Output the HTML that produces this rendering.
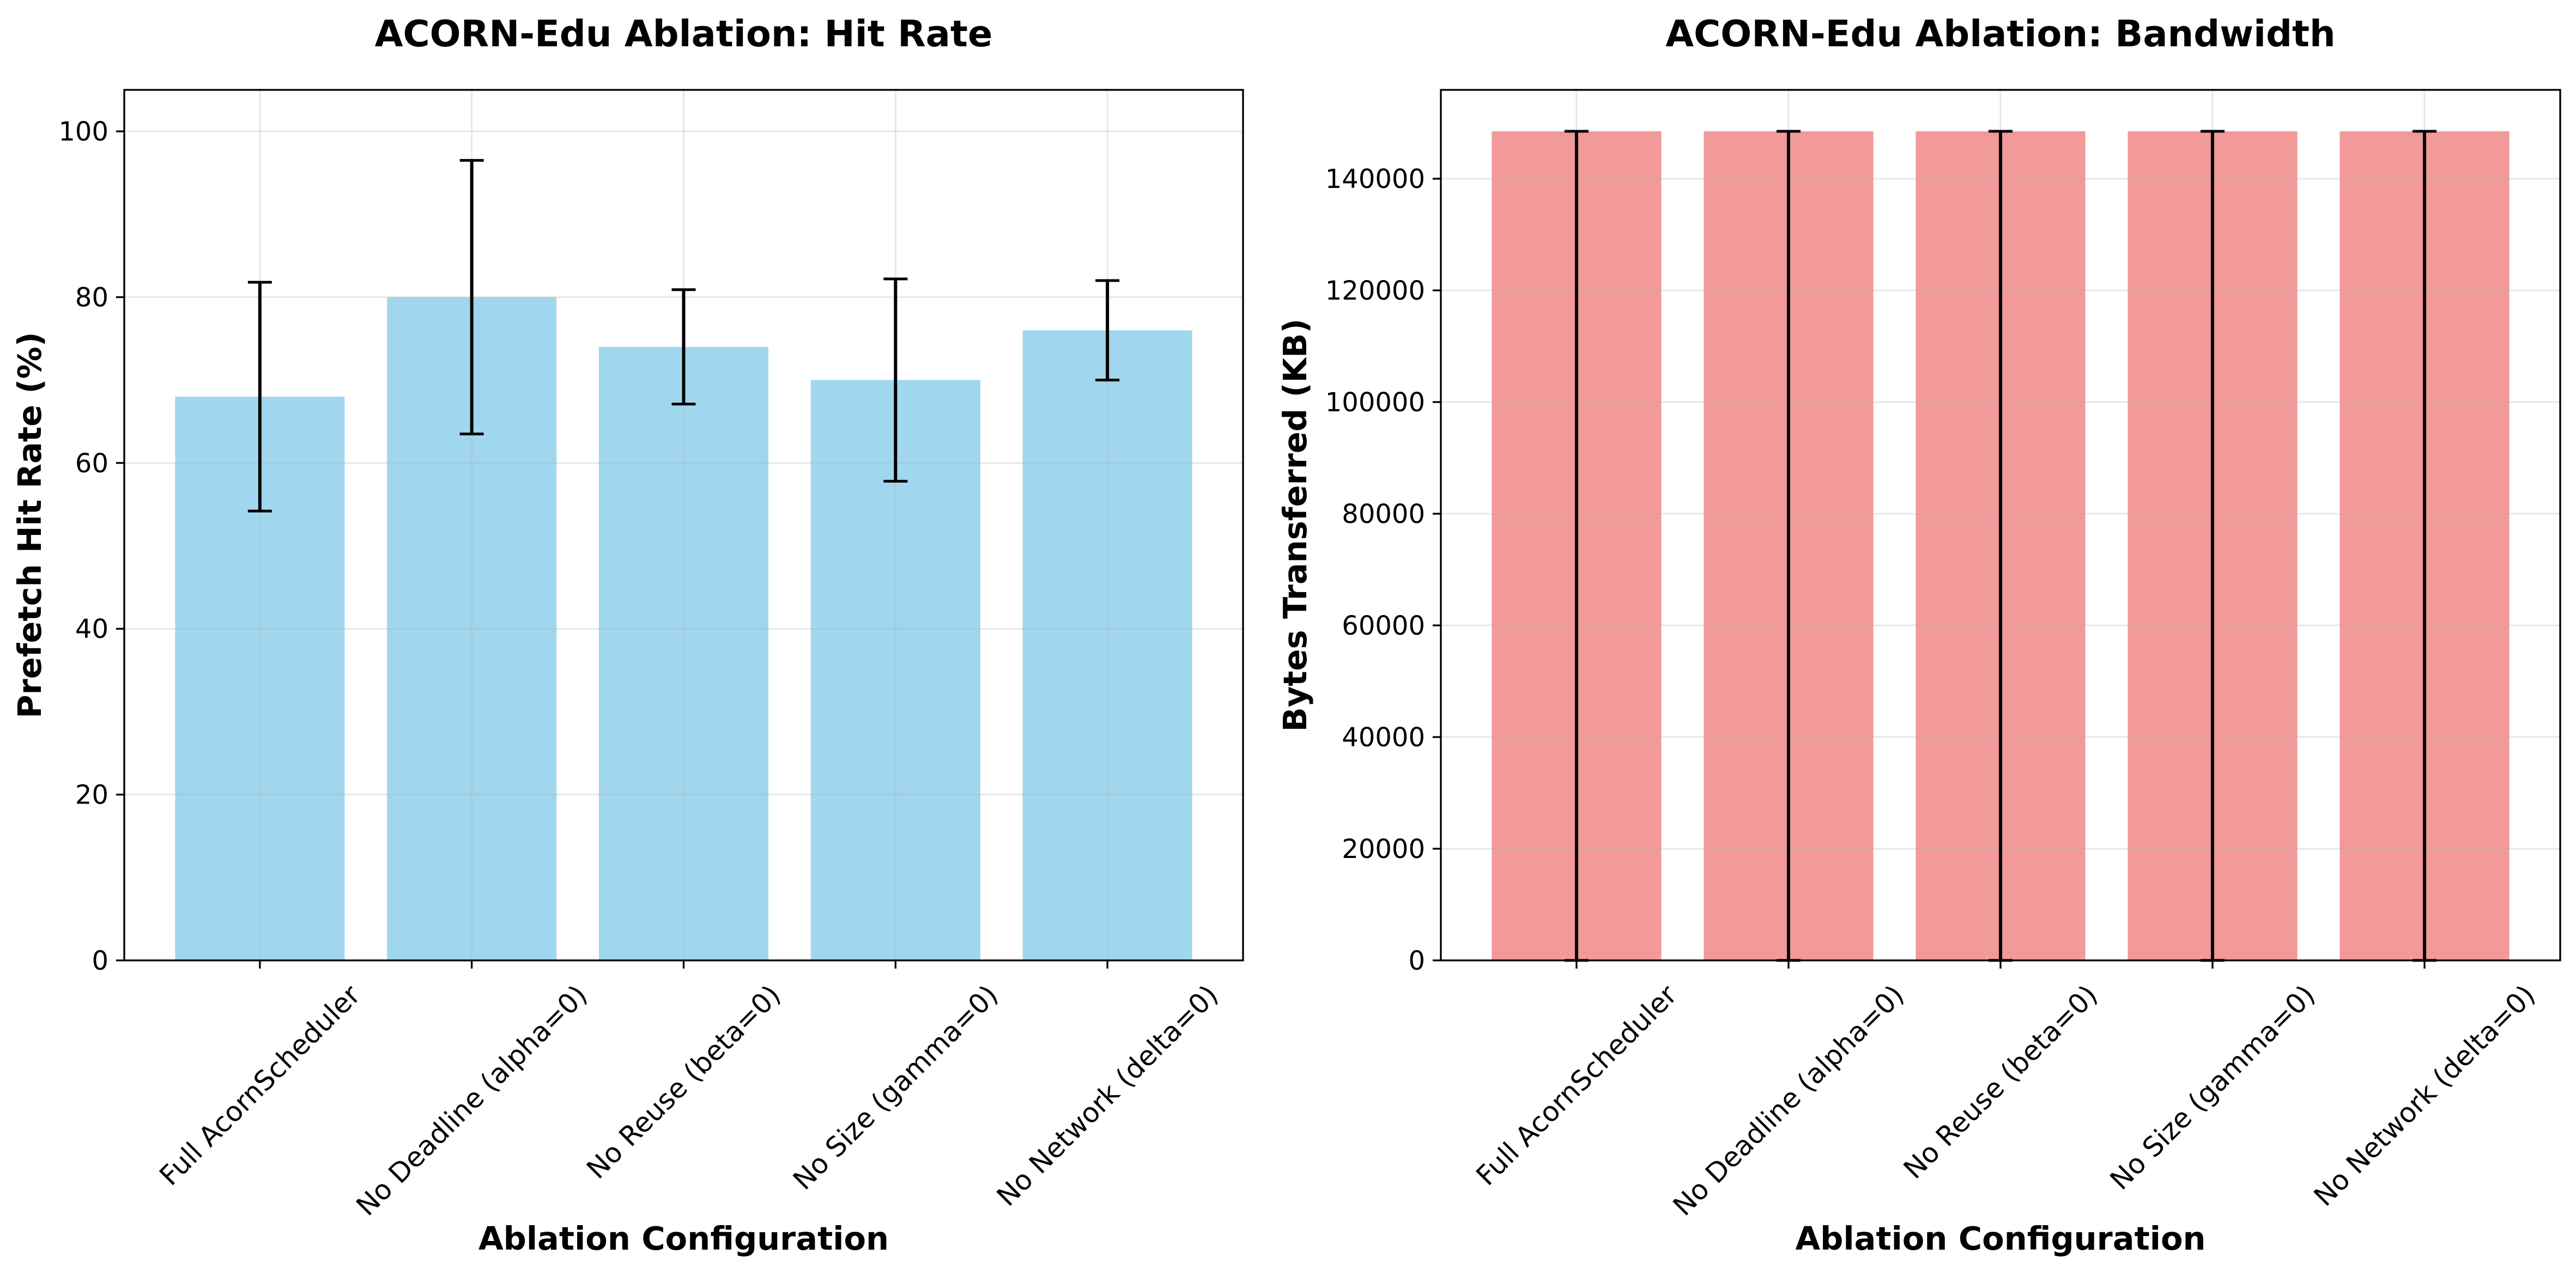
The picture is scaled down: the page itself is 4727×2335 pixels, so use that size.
<!DOCTYPE html>
<html><head><meta charset="utf-8"><title>ACORN-Edu Ablation</title>
<style>html,body{margin:0;padding:0;background:#fff}svg{display:block}text{font-family:"DejaVu Sans","Liberation Sans",sans-serif;fill:#000}</style>
</head><body>
<svg id="fig" width="4727" height="2335" viewBox="0 0 4727 2335" xmlns="http://www.w3.org/2000/svg">
<rect width="4727" height="2335" fill="#fff"/>
</svg>
<script>
const categories = ["Full AcornScheduler","No Deadline (alpha=0)","No Reuse (beta=0)","No Size (gamma=0)","No Network (delta=0)"];
const hitValues = [68, 80, 74, 70, 76];
const hitErrLow = [54.2, 63.5, 67.1, 57.8, 70.0];
const hitErrHigh = [81.8, 96.5, 80.9, 82.2, 82.0];
const hitTicks = [0, 20, 40, 60, 80, 100];
const bwValues = [148490, 148490, 148490, 148490, 148490];
const bwErrLow = [0, 0, 0, 0, 0];
const bwErrHigh = [148490, 148490, 148490, 148490, 148490];
const bwTicks = [0, 20000, 40000, 60000, 80000, 100000, 120000, 140000];

const NS = "http://www.w3.org/2000/svg";
const svg = document.getElementById('fig');
function mk(tag, attrs, parent){
  const e = document.createElementNS(NS, tag);
  for (const k in attrs) e.setAttribute(k, attrs[k]);
  (parent||svg).appendChild(e);
  return e;
}

function drawPanel(opt){
  const g = mk('g', {});
  
  
  const L = opt.left, R = opt.right, T = 165, B = 1763;
  const xmin = -0.64, xmax = categories.length - 1 + 0.64;
  const xs = v => L + (v - xmin) / (xmax - xmin) * (R - L);
  const ys = v => B - v / opt.ymax * (B - T);
  const unit = xs(1) - xs(0);

  opt.values.forEach((v, i) => {
    const r = mk('rect', {x: xs(i) - 0.4*unit, y: ys(v), width: 0.8*unit, height: ys(0) - ys(v), fill: opt.color}, g);
    
    
  });
  opt.ticks.forEach(t => {
    const l = mk('line', {x1: L, x2: R, y1: ys(t), y2: ys(t), stroke: '#b0b0b0', 'stroke-opacity': 0.3, 'stroke-width': 3}, g);
    
    
  });
  categories.forEach((c, i) => {
    const l = mk('line', {x1: xs(i), x2: xs(i), y1: T, y2: B, stroke: '#b0b0b0', 'stroke-opacity': 0.3, 'stroke-width': 3}, g);
    
    
  });
  opt.values.forEach((v, i) => {
    const eg = mk('g', {stroke: '#000'}, g);
    
    
    const x = xs(i), y1 = ys(opt.lo[i]), y2 = ys(opt.hi[i]);
    mk('line', {x1: x, x2: x, y1: y1, y2: y2, 'stroke-width': 6}, eg);
    mk('line', {x1: x-22, x2: x+22, y1: y1, y2: y1, 'stroke-width': 5}, eg);
    mk('line', {x1: x-22, x2: x+22, y1: y2, y2: y2, 'stroke-width': 5}, eg);
  });
  const sp = mk('rect', {x: L, y: T, width: R-L, height: B-T, fill: 'none', stroke: '#000', 'stroke-width': 3.3}, g);
  
  
  opt.ticks.forEach(t => {
    mk('line', {x1: L-15, x2: L, y1: ys(t), y2: ys(t), stroke: '#000', 'stroke-width': 3.3}, g);
    const tx = mk('text', {x: L-29, y: ys(t) + 17, 'text-anchor': 'end', 'font-size': 48}, g);
    tx.textContent = String(t);
    
    
  });
  categories.forEach((c, i) => {
    mk('line', {x1: xs(i), x2: xs(i), y1: B, y2: B+15, stroke: '#000', 'stroke-width': 3.3}, g);
    const tg = mk('g', {}, g);
    const tx = mk('text', {x: 0, y: 0, 'text-anchor': 'middle', 'dominant-baseline': 'central', 'font-size': 50}, tg);
    tx.textContent = c;
    
    
    const len = tx.getComputedTextLength();
    const h = 58;
    const cy = 1797 + (len + h) * 0.7071 / 2;
    tg.setAttribute('transform', 'translate(' + xs(i) + ',' + cy + ') rotate(-45)');
  });
  const ti = mk('text', {x: (L+R)/2, y: 85, 'text-anchor': 'middle', 'font-size': 67, 'font-weight': 'bold'}, g);
  ti.textContent = opt.title;
  
  
  const xl = mk('text', {x: (L+R)/2, y: 2294, 'text-anchor': 'middle', 'font-size': 59, 'font-weight': 'bold'}, g);
  xl.textContent = 'Ablation Configuration';
  
  
  const yl = mk('text', {x: 0, y: 0, 'text-anchor': 'middle', 'font-size': 59, 'font-weight': 'bold', transform: 'translate(' + (opt.ylabelX + 21) + ',' + ((T+B)/2) + ') rotate(-90)'}, g);
  yl.textContent = opt.ylabel;
  
  
}

drawPanel({name: 'hit-rate-chart', left: 228, right: 2281, ymax: 105, values: hitValues, lo: hitErrLow, hi: hitErrHigh, ticks: hitTicks, color: '#a0d7ee', title: 'ACORN-Edu Ablation: Hit Rate', ylabel: 'Prefetch Hit Rate (%)', ylabelX: 54});
drawPanel({name: 'bandwidth-chart', left: 2644, right: 4698, ymax: 155910, values: bwValues, lo: bwErrLow, hi: bwErrHigh, ticks: bwTicks, color: '#f29999', title: 'ACORN-Edu Ablation: Bandwidth', ylabel: 'Bytes Transferred (KB)', ylabelX: 2376});
</script>
</body></html>
